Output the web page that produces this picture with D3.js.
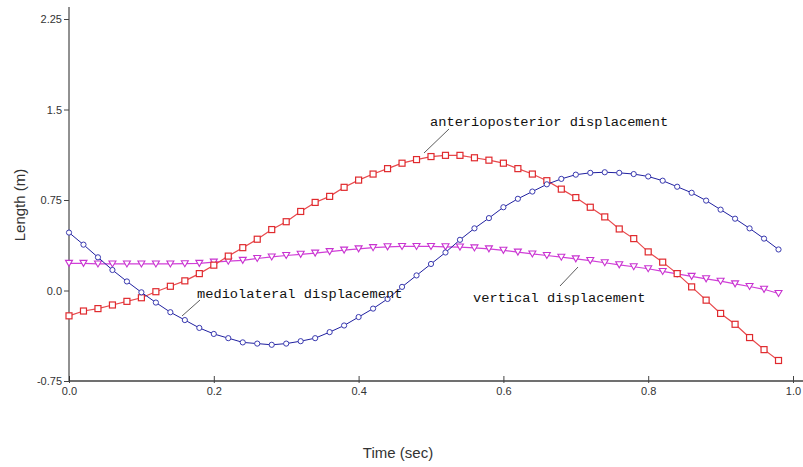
<!DOCTYPE html>
<html><head><meta charset="utf-8">
<script src="https://cdn.jsdelivr.net/npm/d3@7/dist/d3.min.js"></script>
<style>body{margin:0;background:#fff;} svg{display:block;}</style>
</head><body>
<svg id="c" width="803" height="467"></svg>
<script>
const times = d3.range(50).map(i => +(i*0.02).toFixed(2));
const anterioposterior = [-0.21,-0.17,-0.15,-0.12,-0.09,-0.06,-0.01,0.035,0.08,0.14,
  0.21,0.285,0.355,0.425,0.505,0.57,0.655,0.73,0.78,0.855,
  0.915,0.965,1.01,1.055,1.085,1.11,1.12,1.12,1.10,1.08,
  1.055,1.01,0.965,0.91,0.84,0.77,0.69,0.61,0.51,0.43,
  0.32,0.235,0.14,0.03,-0.08,-0.19,-0.28,-0.39,-0.49,-0.58];
const mediolateral = [0.48,0.38,0.275,0.17,0.075,-0.015,-0.10,-0.18,-0.245,-0.31,
  -0.36,-0.395,-0.43,-0.44,-0.45,-0.44,-0.42,-0.395,-0.345,-0.29,
  -0.22,-0.15,-0.07,0.03,0.125,0.22,0.315,0.42,0.515,0.60,
  0.69,0.76,0.82,0.88,0.925,0.96,0.975,0.98,0.975,0.965,
  0.945,0.91,0.86,0.81,0.745,0.67,0.595,0.515,0.43,0.34];
const vertical = [0.225,0.225,0.22,0.22,0.22,0.22,0.22,0.22,0.222,0.225,
  0.235,0.243,0.25,0.265,0.278,0.29,0.30,0.31,0.322,0.335,
  0.345,0.355,0.362,0.365,0.365,0.365,0.362,0.36,0.353,0.345,
  0.333,0.318,0.303,0.29,0.276,0.262,0.248,0.23,0.213,0.197,
  0.18,0.158,0.138,0.117,0.097,0.077,0.055,0.033,0.01,-0.025];
const yTicks = [-0.75, 0, 0.75, 1.5, 2.25];
const yTickLabels = ["-0.75","0.0","0.75","1.5","2.25"];
const xTicks = [0, 0.2, 0.4, 0.6, 0.8, 1.0];
const xTickLabels = ["0.0","0.2","0.4","0.6","0.8","1.0"];
const seriesNames = ["anterioposterior displacement","mediolateral displacement","vertical displacement"];

const svg = d3.select("#c");
const x = d3.scaleLinear().domain([0,1]).range([69,793]);
const y = d3.scaleLinear().domain([-0.75,2.25]).range([381,19]);

// x axis
const gx = svg.append("g").attr("transform","translate(0,381)");
gx.append("line").attr("x1",69).attr("x2",803).attr("stroke","#707070").attr("stroke-width",2);
gx.call(d3.axisBottom(x).tickValues(xTicks).tickFormat((d,i)=>xTickLabels[i]).tickSize(0))
  .call(g=>g.select(".domain").remove());
gx.selectAll(".tick line").remove();
gx.selectAll(".tick").append("line").attr("y1",-5).attr("y2",2).attr("stroke","#444");
gx.selectAll(".tick text").attr("y",6).attr("dy","0.71em").attr("fill","#333")
  .style("font-family","Liberation Sans, Arial, sans-serif").style("font-size","11px");

// y axis
const gy = svg.append("g").attr("transform","translate(69,0)");
gy.append("line").attr("y1",7).attr("y2",381).attr("stroke","#222").attr("stroke-width",1);
gy.call(d3.axisLeft(y).tickValues(yTicks).tickFormat((d,i)=>yTickLabels[i]).tickSize(5).tickPadding(2))
  .call(g=>g.select(".domain").remove());
gy.selectAll(".tick line").attr("stroke","#444");
gy.selectAll(".tick text").attr("fill","#333")
  .style("font-family","Liberation Sans, Arial, sans-serif").style("font-size","11px");

// axis titles
svg.append("text").attr("x",398).attr("y",458).attr("text-anchor","middle")
  .style("font-family","Liberation Sans, Arial, sans-serif").style("font-size","15px").attr("fill","#333")
  .text("Time (sec)");
svg.append("text").attr("transform","translate(25,205) rotate(-90)").attr("text-anchor","middle")
  .style("font-family","Liberation Sans, Arial, sans-serif").style("font-size","15px").attr("fill","#333")
  .text("Length (m)");

const line = d3.line().x((d,i)=>x(times[i])).y(d=>y(d));

// vertical (magenta)
svg.append("path").attr("d",line(vertical)).attr("fill","none").attr("stroke","#d13fd8").attr("stroke-width",1.2);
svg.append("g").selectAll("path").data(vertical).join("path")
  .attr("d",(d,i)=>{const cx=x(times[i]), cy=y(d); return `M${cx-3.5},${cy-3}L${cx+3.5},${cy-3}L${cx},${cy+3}Z`;})
  .attr("fill","#fff").attr("stroke","#c833d0").attr("stroke-width",1.1);

// anterioposterior (red)
svg.append("path").attr("d",line(anterioposterior)).attr("fill","none").attr("stroke","#e8484c").attr("stroke-width",1.2);
svg.append("g").selectAll("rect").data(anterioposterior).join("rect")
  .attr("x",(d,i)=>x(times[i])-3).attr("y",d=>y(d)-3).attr("width",6).attr("height",6)
  .attr("fill","#fff").attr("stroke","#e02a2e").attr("stroke-width",1.2);

// mediolateral (blue)
svg.append("path").attr("d",line(mediolateral)).attr("fill","none").attr("stroke","#2020a0").attr("stroke-width",1);
svg.append("g").selectAll("circle").data(mediolateral).join("circle")
  .attr("cx",(d,i)=>x(times[i])).attr("cy",d=>y(d)).attr("r",2.6)
  .attr("fill","#fff").attr("stroke","#3a3ab0").attr("stroke-width",1);

// annotations
const ann = [
  {t:seriesNames[0], tx:430, ty:126, l:[449,129,424,153]},
  {t:seriesNames[1], tx:197, ty:298, l:[200,300,182,316]},
  {t:seriesNames[2], tx:473, ty:302, l:[560,286,578,267]}
];
ann.forEach(a=>{
  svg.append("line").attr("x1",a.l[0]).attr("y1",a.l[1]).attr("x2",a.l[2]).attr("y2",a.l[3])
    .attr("stroke","#333").attr("stroke-width",0.8);
  svg.append("text").attr("x",a.tx).attr("y",a.ty).attr("fill","#111")
    .style("font-family","Liberation Mono, Courier New, monospace").style("font-size","13.7px")
    .text(a.t);
});
</script>
</body></html>
